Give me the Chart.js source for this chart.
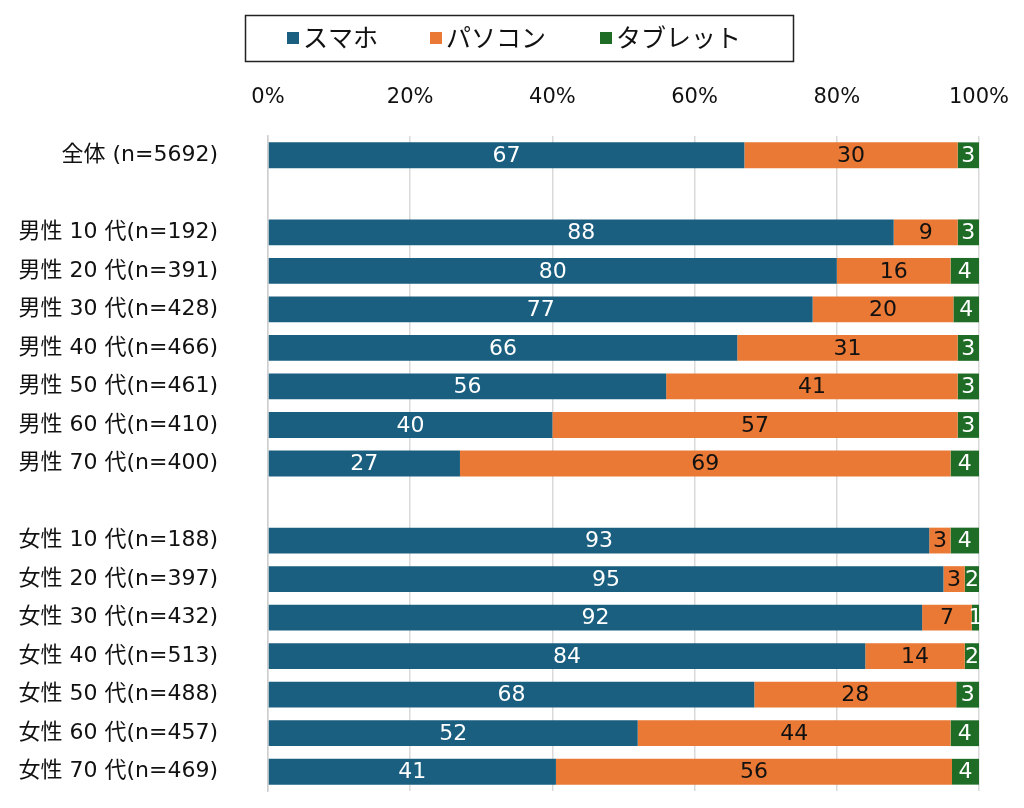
<!DOCTYPE html>
<html>
<head>
<meta charset="utf-8">
<script src="https://cdn.jsdelivr.net/npm/chart.js@4/dist/chart.umd.min.js"></script>
<style>
  body { margin: 0; background: #fff; }
  #wrap { width: 1024px; height: 808px; }
</style>
</head>
<body>
<div id="wrap"><canvas id="chart" width="1024" height="808"></canvas></div>
<script>
const categories = [
    '全体 (n=5692)', '',
    '男性 10 代(n=192)', '男性 20 代(n=391)', '男性 30 代(n=428)', '男性 40 代(n=466)',
    '男性 50 代(n=461)', '男性 60 代(n=410)', '男性 70 代(n=400)', '',
    '女性 10 代(n=188)', '女性 20 代(n=397)', '女性 30 代(n=432)', '女性 40 代(n=513)',
    '女性 50 代(n=488)', '女性 60 代(n=457)', '女性 70 代(n=469)'
]
const smartphone = [67, null, 88, 80, 76.6, 66, 56, 40, 27, null, 93, 95, 92, 84, 68.4, 52, 40.5]
const pc = [30, null, 9, 16, 19.8, 31, 41, 57, 69, null, 3, 3, 7, 14, 28.4, 44, 55.7]
const tablet = [3, null, 3, 4, 3.6, 3, 3, 3, 4, null, 4, 2, 1, 2, 3.2, 4, 3.8]
const seriesNames = ['スマホ', 'パソコン', 'タブレット']
const xTicks = [0, 20, 40, 60, 80, 100]

const colors = ['#1a5f7f', '#e97934', '#1e6c26']
const labelColors = ['#ffffff', '#111111', '#ffffff']
const FONT = '"DejaVu Sans", "Noto Sans CJK JP", sans-serif'

// value labels inside each segment
const segmentLabels = {
    id: 'segmentLabels',
    afterDatasetsDraw(chart) {
        const ctx = chart.ctx
        const area = chart.chartArea
        ctx.save()
        ctx.font = '22px ' + FONT
        ctx.textAlign = 'center'
        ctx.textBaseline = 'middle'
        chart.data.datasets.forEach((ds, i) => {
            chart.getDatasetMeta(i).data.forEach((bar, j) => {
                const v = ds.data[j]
                if (v == null) return
                const left = Math.max(Math.min(bar.x, bar.base), area.left)
                const right = Math.min(Math.max(bar.x, bar.base), area.right)
                ctx.fillStyle = labelColors[i]
                ctx.fillText(String(Math.round(v)), (left + right) / 2, bar.y + 1)
            })
        })
        ctx.restore()
    }
}

// boxed legend on top
const boxLegend = {
    id: 'boxLegend',
    afterDraw(chart) {
        const ctx = chart.ctx
        ctx.save()
        ctx.strokeStyle = '#222'
        ctx.lineWidth = 1.5
        ctx.strokeRect(245.5, 15.5, 548, 46)
        ctx.font = '25px ' + FONT
        ctx.textBaseline = 'middle'
        ctx.textAlign = 'left'
        const starts = [287, 430, 600]
        chart.data.datasets.forEach((ds, i) => {
            ctx.fillStyle = ds.backgroundColor
            ctx.fillRect(starts[i], 32, 12, 12)
            ctx.fillStyle = '#111'
            ctx.fillText(ds.label, starts[i] + 16, 40)
        })
        ctx.restore()
    }
}

const datasets = [smartphone, pc, tablet].map((values, i) => ({
    label: seriesNames[i],
    data: values,
    backgroundColor: colors[i],
    borderWidth: 0,
    categoryPercentage: 1,
    barPercentage: 0.67
}))

new Chart(document.getElementById('chart'), {
    type: 'bar',
    data: { labels: categories, datasets: datasets },
    options: {
        indexAxis: 'y',
        responsive: false,
        animation: false,
        layout: { padding: { top: 0, left: 0, right: 45, bottom: 17 } },
        plugins: {
            legend: { display: false },
            tooltip: { enabled: false }
        },
        scales: {
            x: {
                position: 'top',
                stacked: true,
                min: 0,
                max: 100,
                afterFit: (scale) => {
                    scale.height = 136
                    scale.paddingLeft = 0
                    scale.paddingRight = 0
                },
                afterBuildTicks: (scale) => { scale.ticks = xTicks.map(v => ({ value: v })) },
                ticks: {
                    color: '#111',
                    font: { size: 21, family: FONT },
                    padding: 26,
                    callback: (v) => v + '%'
                },
                grid: { color: '#d9d9d9', lineWidth: 1.5, drawTicks: false },
                border: { display: false }
            },
            y: {
                stacked: true,
                afterFit: (scale) => {
                    scale.width = 268
                    scale.paddingTop = 0
                    scale.paddingBottom = 0
                },
                ticks: {
                    color: '#111',
                    font: { size: 22, family: FONT },
                    padding: 50,
                    autoSkip: false
                },
                grid: { display: false, drawTicks: false },
                border: { display: true, color: '#cfcfcf', width: 1.5 }
            }
        }
    },
    plugins: [segmentLabels, boxLegend]
})
</script>
</body>
</html>
